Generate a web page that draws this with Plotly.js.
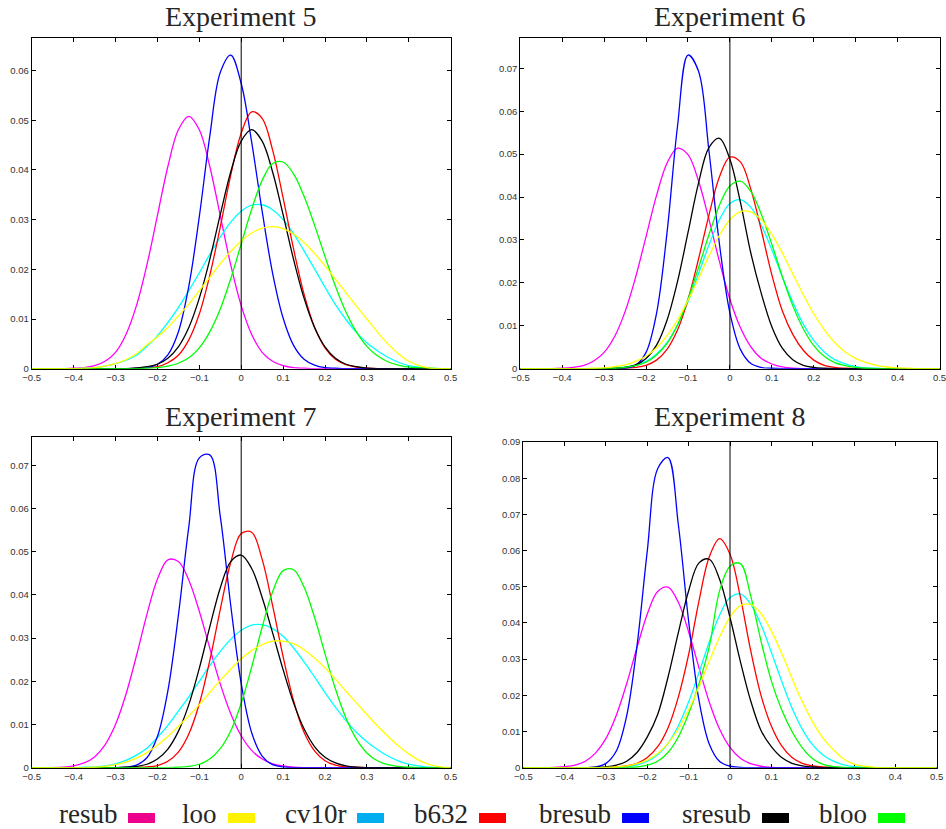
<!DOCTYPE html>
<html>
<head>
<meta charset="utf-8">
<script src="https://cdn.plot.ly/plotly-3.0.1.min.js"></script>
<style>
html,body{margin:0;padding:0;background:#fff;}
#chart{width:946px;height:829px;}
</style>
</head>
<body>
<div id="chart"></div>
<script>
// ---------------- DATA ----------------
const xGrid = [-0.5,-0.475,-0.45,-0.425,-0.4,-0.375,-0.35,-0.325,-0.3,-0.275,
  -0.25,-0.225,-0.2,-0.175,-0.15,-0.125,-0.1,-0.075,-0.05,-0.025,
  0,0.025,0.05,0.075,0.1,0.125,0.15,0.175,0.2,0.225,
  0.25,0.275,0.3,0.325,0.35,0.375,0.4,0.425,0.45,0.475,0.5];

const methods = ['resub','loo','cv10r','b632','bresub','sresub','bloo'];
const titles = ['Experiment 5','Experiment 6','Experiment 7','Experiment 8'];

// Experiment 5
const e5_resub = [0,0,0,0,0.0001,0.0002,0.0006,0.0015,0.0033,0.0069,
  0.0127,0.0209,0.0308,0.0407,0.0481,0.0508,0.0481,0.0407,0.0308,0.0209,
  0.0127,0.0069,0.0033,0.0015,0.0006,0.0002,0.0001,0,0,0,
  0,0,0,0,0,0,0,0,0,0,0];
const e5_loo = [0,0,0,0,0,0.0001,0.0002,0.0005,0.0010,0.0018,
  0.0030,0.0048,0.0064,0.0083,0.0106,0.0130,0.0157,0.0184,0.0211,0.0236,
  0.0257,0.0273,0.0283,0.0286,0.0282,0.0271,0.0254,0.0232,0.0207,0.0180,
  0.0153,0.0126,0.0100,0.0074,0.0050,0.0030,0.0015,0.0006,0.0001,0,0];
const e5_cv10r = [0,0,0,0,0,0.0001,0.0002,0.0005,0.0010,0.0017,
  0.0027,0.0045,0.0066,0.0093,0.0123,0.0157,0.0193,0.0230,0.0265,0.0295,
  0.0317,0.0329,0.0330,0.0320,0.0300,0.0272,0.0237,0.0201,0.0164,0.0129,
  0.0099,0.0073,0.0052,0.0036,0.0023,0.0013,0.0006,0.0003,0.0001,0,0];
const e5_b632 = [0,0,0,0,0,0,0,0,0,0,
  0.0001,0.0002,0.0004,0.0012,0.0027,0.0058,0.0110,0.0188,0.0285,0.0389,
  0.0474,0.0517,0.0504,0.0440,0.0344,0.0241,0.0150,0.0084,0.0042,0.0019,
  0.0008,0.0003,0.0001,0,0,0,0,0,0,0,0];
const e5_bresub = [0,0,0,0,0,0,0,0,0,0,
  0.0001,0.0002,0.0009,0.0028,0.0074,0.0166,0.0306,0.0468,0.0596,0.0631,
  0.0574,0.0456,0.0317,0.0192,0.0102,0.0047,0.0019,0.0007,0.0002,0.0001,
  0,0,0,0,0,0,0,0,0,0,0];
const e5_sresub = [0,0,0,0,0,0,0,0,0,0,
  0.0001,0.0004,0.0009,0.0021,0.0044,0.0083,0.0142,0.0220,0.0310,0.0396,
  0.0458,0.0481,0.0458,0.0396,0.0310,0.0220,0.0142,0.0083,0.0044,0.0021,
  0.0009,0.0004,0.0001,0,0,0,0,0,0,0,0];
const e5_bloo = [0,0,0,0,0,0,0,0,0,0,
  0,0.0001,0.0002,0.0005,0.0011,0.0022,0.0042,0.0074,0.0120,0.0181,
  0.0251,0.0321,0.0379,0.0413,0.0416,0.0392,0.0347,0.0289,0.0226,0.0166,
  0.0114,0.0074,0.0045,0.0026,0.0014,0.0007,0.0003,0.0002,0.0001,0,0];

// Experiment 6
const e6_resub = [0,0,0,0,0.0001,0.0003,0.0007,0.0018,0.0038,0.0075,
  0.0133,0.0213,0.0308,0.0404,0.0479,0.0514,0.0499,0.0438,0.0348,0.0250,
  0.0162,0.0096,0.0051,0.0024,0.0011,0.0004,0.0001,0,0,0,
  0,0,0,0,0,0,0,0,0,0,0];
const e6_loo = [0,0,0,0,0,0,0,0.0001,0.0002,0.0005,
  0.0009,0.0017,0.0029,0.0049,0.0077,0.0114,0.0159,0.0210,0.0263,0.0311,
  0.0347,0.0366,0.0365,0.0347,0.0313,0.0270,0.0221,0.0173,0.0128,0.0091,
  0.0061,0.0039,0.0024,0.0014,0.0008,0.0004,0.0002,0.0001,0,0,0];
const e6_cv10r = [0,0,0,0,0,0,0,0,0,0.0001,
  0.0004,0.0008,0.0017,0.0034,0.0061,0.0102,0.0156,0.0221,0.0288,0.0347,
  0.0385,0.0394,0.0376,0.0334,0.0277,0.0214,0.0155,0.0104,0.0066,0.0039,
  0.0021,0.0011,0.0005,0.0002,0.0001,0,0,0,0,0,0];
const e6_b632 = [0,0,0,0,0,0,0,0,0,0,
  0.0001,0.0003,0.0008,0.0020,0.0045,0.0090,0.0161,0.0255,0.0358,0.0447,
  0.0493,0.0482,0.0418,0.0322,0.0219,0.0135,0.0080,0.0043,0.0020,0.0008,
  0.0003,0.0001,0,0,0,0,0,0,0,0,0];
const e6_bresub = [0,0,0,0,0,0,0,0,0,0,
  0.0001,0.0008,0.0038,0.0129,0.0317,0.0565,0.0731,0.0694,0.0508,0.0291,
  0.0130,0.0045,0.0012,0.0003,0.0001,0,0,0,0,0,
  0,0,0,0,0,0,0,0,0,0,0];
const e6_sresub = [0,0,0,0,0,0,0,0,0,0.0001,
  0.0003,0.0009,0.0024,0.0055,0.0113,0.0203,0.0317,0.0432,0.0515,0.0537,
  0.0488,0.0388,0.0269,0.0175,0.0098,0.0048,0.0021,0.0008,0.0003,0.0001,
  0,0,0,0,0,0,0,0,0,0,0];
const e6_bloo = [0,0,0,0,0,0,0,0,0,0.0001,
  0.0003,0.0007,0.0015,0.0032,0.0059,0.0102,0.0162,0.0235,0.0312,0.0381,
  0.0426,0.0437,0.0413,0.0360,0.0290,0.0215,0.0147,0.0093,0.0054,0.0029,
  0.0014,0.0007,0.0003,0.0001,0,0,0,0,0,0,0];

// Experiment 7
const e7_resub = [0,0,0,0.0001,0.0004,0.0011,0.0025,0.0053,0.0100,0.0170,
  0.0259,0.0355,0.0436,0.0481,0.0477,0.0434,0.0362,0.0277,0.0194,0.0125,
  0.0074,0.0040,0.0020,0.0009,0.0004,0.0001,0,0,0,0,
  0,0,0,0,0,0,0,0,0,0,0];
const e7_loo = [0,0,0,0,0,0,0.0001,0.0003,0.0007,0.0013,
  0.0022,0.0035,0.0052,0.0072,0.0096,0.0120,0.0146,0.0174,0.0202,0.0228,
  0.0252,0.0271,0.0285,0.0293,0.0293,0.0287,0.0273,0.0254,0.0231,0.0205,
  0.0177,0.0150,0.0123,0.0097,0.0073,0.0051,0.0032,0.0017,0.0007,0.0002,0];
const e7_cv10r = [0,0,0,0,0,0.0001,0.0002,0.0004,0.0009,0.0017,
  0.0029,0.0045,0.0070,0.0098,0.0131,0.0164,0.0200,0.0236,0.0269,0.0297,
  0.0318,0.0330,0.0331,0.0322,0.0304,0.0277,0.0245,0.0210,0.0174,0.0140,
  0.0109,0.0082,0.0060,0.0042,0.0027,0.0016,0.0008,0.0004,0.0001,0,0];
const e7_b632 = [0,0,0,0,0,0,0,0,0,0,
  0.0001,0.0002,0.0005,0.0015,0.0036,0.0078,0.0148,0.0248,0.0366,0.0475,
  0.0542,0.0545,0.0482,0.0375,0.0257,0.0155,0.0082,0.0039,0.0016,0.0006,
  0.0002,0.0001,0,0,0,0,0,0,0,0,0];
const e7_bresub = [0,0,0,0,0,0,0,0,0,0.0001,
  0.0006,0.0023,0.0072,0.0178,0.0352,0.0558,0.0717,0.0724,0.0582,0.0376,
  0.0195,0.0081,0.0027,0.0007,0.0002,0,0,0,0,0,
  0,0,0,0,0,0,0,0,0,0,0];
const e7_sresub = [0,0,0,0,0,0,0,0,0,0.0001,
  0.0003,0.0008,0.0020,0.0043,0.0084,0.0146,0.0230,0.0326,0.0416,0.0477,
  0.0492,0.0461,0.0394,0.0312,0.0227,0.0150,0.0090,0.0049,0.0024,0.0011,
  0.0004,0.0001,0,0,0,0,0,0,0,0,0];
const e7_bloo = [0,0,0,0,0,0,0,0,0,0,
  0,0,0,0,0.0001,0.0003,0.0008,0.0020,0.0044,0.0085,
  0.0149,0.0233,0.0325,0.0407,0.0456,0.0458,0.0418,0.0348,0.0264,0.0182,
  0.0115,0.0066,0.0034,0.0016,0.0007,0.0003,0.0001,0,0,0,0];

// Experiment 8
const e8_resub = [0,0,0,0.0001,0.0003,0.0007,0.0018,0.0041,0.0081,0.0145,
  0.0232,0.0332,0.0425,0.0487,0.0499,0.0457,0.0375,0.0276,0.0181,0.0106,
  0.0056,0.0026,0.0011,0.0004,0.0001,0,0,0,0,0,
  0,0,0,0,0,0,0,0,0,0,0];
const e8_loo = [0,0,0,0,0,0,0,0,0.0001,0.0002,
  0.0005,0.0011,0.0021,0.0039,0.0067,0.0107,0.0160,0.0224,0.0295,0.0362,
  0.0416,0.0448,0.0451,0.0426,0.0378,0.0316,0.0247,0.0182,0.0126,0.0082,
  0.0050,0.0024,0.0010,0.0004,0.0001,0,0,0,0,0,0];
const e8_cv10r = [0,0,0,0,0,0,0,0,0,0.0001,
  0.0003,0.0008,0.0018,0.0036,0.0067,0.0116,0.0182,0.0263,0.0348,0.0422,
  0.0470,0.0480,0.0452,0.0395,0.0319,0.0239,0.0165,0.0106,0.0063,0.0035,
  0.0018,0.0008,0.0003,0.0001,0,0,0,0,0,0,0];
const e8_b632 = [0,0,0,0,0,0,0,0,0.0001,0.0002,
  0.0005,0.0012,0.0028,0.0058,0.0110,0.0195,0.0313,0.0461,0.0583,0.0633,
  0.0590,0.0472,0.0324,0.0200,0.0115,0.0060,0.0028,0.0012,0.0005,0.0002,
  0.0001,0,0,0,0,0,0,0,0,0,0];
const e8_bresub = [0,0,0,0,0,0,0,0.0002,0.0012,0.0046,
  0.0143,0.0336,0.0600,0.0826,0.0857,0.0672,0.0404,0.0186,0.0065,0.0017,
  0.0004,0.0001,0,0,0,0,0,0,0,0,
  0,0,0,0,0,0,0,0,0,0,0];
const e8_sresub = [0,0,0,0,0,0,0,0.0001,0.0002,0.0007,
  0.0018,0.0042,0.0085,0.0147,0.0250,0.0373,0.0489,0.0566,0.0576,0.0520,
  0.0415,0.0294,0.0185,0.0103,0.0058,0.0028,0.0012,0.0005,0.0002,0,
  0,0,0,0,0,0,0,0,0,0,0];
const e8_bloo = [0,0,0,0,0,0,0,0,0,0,
  0.0001,0.0002,0.0007,0.0018,0.0042,0.0085,0.0150,0.0232,0.0335,0.0490,
  0.0557,0.0564,0.0475,0.0350,0.0240,0.0160,0.0100,0.0055,0.0025,0.0009,
  0.0003,0.0001,0,0,0,0,0,0,0,0,0];

const yMax = [0.0665, 0.077, 0.0766, 0.09];

// ---------------- STYLE ----------------
const lineColors = {resub:'#ff00ff', loo:'#ffff00', cv10r:'#00ffff', b632:'#ff0000',
                    bresub:'#0000ff', sresub:'#000000', bloo:'#00ff00'};
const swatchColors = {resub:'#ec008c', loo:'#fff200', cv10r:'#00aeef', b632:'#ff0000',
                      bresub:'#0000ff', sresub:'#000000', bloo:'#00ff00'};
const drawOrder = ['resub','cv10r','b632','bresub','sresub','bloo','loo'];

const W = 946, H = 829;
const px = p => p / W;
const py = p => 1 - p / H;

// panel boxes in pixels [left, right, top, bottom]
const boxes = [
  [31.7, 450.7, 38.3, 368.7],
  [520.3, 939.5, 38.3, 368.7],
  [31.7, 450.7, 436.7, 767.7],
  [523.3, 936.7, 442, 767.7]
];
const titleY = [17, 17, 416, 416];

const experiments = [
  {resub:e5_resub, loo:e5_loo, cv10r:e5_cv10r, b632:e5_b632, bresub:e5_bresub, sresub:e5_sresub, bloo:e5_bloo},
  {resub:e6_resub, loo:e6_loo, cv10r:e6_cv10r, b632:e6_b632, bresub:e6_bresub, sresub:e6_sresub, bloo:e6_bloo},
  {resub:e7_resub, loo:e7_loo, cv10r:e7_cv10r, b632:e7_b632, bresub:e7_bresub, sresub:e7_sresub, bloo:e7_bloo},
  {resub:e8_resub, loo:e8_loo, cv10r:e8_cv10r, b632:e8_b632, bresub:e8_bresub, sresub:e8_sresub, bloo:e8_bloo}
];

const tickFont = {family:'Liberation Sans, Arial, sans-serif', size:9.5, color:'#333'};
const serif = 'Liberation Serif, Times New Roman, serif';

const traces = [];
const layout = {
  width: W, height: H,
  margin: {l:0, r:0, t:0, b:0},
  paper_bgcolor: '#fff', plot_bgcolor: '#fff',
  showlegend: false,
  shapes: [], annotations: []
};

experiments.forEach((exp, i) => {
  const n = i + 1;
  const sfx = n === 1 ? '' : String(n);
  const b = boxes[i];
  drawOrder.forEach(m => {
    traces.push({
      type: 'scatter', mode: 'lines',
      x: xGrid, y: exp[m], name: m,
      xaxis: 'x' + sfx, yaxis: 'y' + sfx,
      line: {color: lineColors[m], width: 1.3, shape: 'spline', smoothing: 1},
      hoverinfo: 'x+y+name'
    });
  });
  const common = {
    ticks: 'inside', ticklen: 4, tickwidth: 1, tickcolor: '#000',
    showline: true, linecolor: '#000', linewidth: 1, mirror: 'ticks',
    showgrid: false, zeroline: false, tickfont: tickFont, layer: 'below traces',
    ticklabeloverflow: 'allow', fixedrange: true
  };
  layout['xaxis' + sfx] = Object.assign({}, common, {
    domain: [px(b[0]), px(b[1])], range: [-0.5, 0.5],
    tick0: -0.5, dtick: 0.1, anchor: 'y' + sfx
  });
  layout['yaxis' + sfx] = Object.assign({}, common, {
    domain: [py(b[3]), py(b[2])], range: [0, yMax[i]],
    tick0: 0, dtick: 0.01, anchor: 'x' + sfx
  });
  layout.shapes.push({
    type: 'line', xref: 'x' + sfx, yref: 'y' + sfx + ' domain',
    x0: 0, x1: 0, y0: 0, y1: 1, line: {color: '#000', width: 1}
  });
  layout.annotations.push({
    text: titles[i], xref: 'paper', yref: 'paper',
    x: px((b[0] + b[1]) / 2), y: py(titleY[i]),
    xanchor: 'center', yanchor: 'middle', showarrow: false,
    font: {family: serif, size: 28, color: '#262626'}
  });
});

// legend (text followed by a colour swatch)
const swatchLeft = [128, 228, 357, 479, 622, 762, 878];
methods.forEach((m, k) => {
  const l = swatchLeft[k];
  layout.shapes.push({
    type: 'rect', xref: 'paper', yref: 'paper',
    x0: px(l), x1: px(l + 27), y0: py(823), y1: py(813),
    fillcolor: swatchColors[m], line: {width: 0}
  });
  layout.annotations.push({
    text: m, xref: 'paper', yref: 'paper',
    x: px(l - 9), y: py(814), xanchor: 'right', yanchor: 'middle',
    showarrow: false, font: {family: serif, size: 27, color: '#262626'}
  });
});

Plotly.newPlot('chart', traces, layout, {displayModeBar: false, staticPlot: true});
</script>
</body>
</html>
